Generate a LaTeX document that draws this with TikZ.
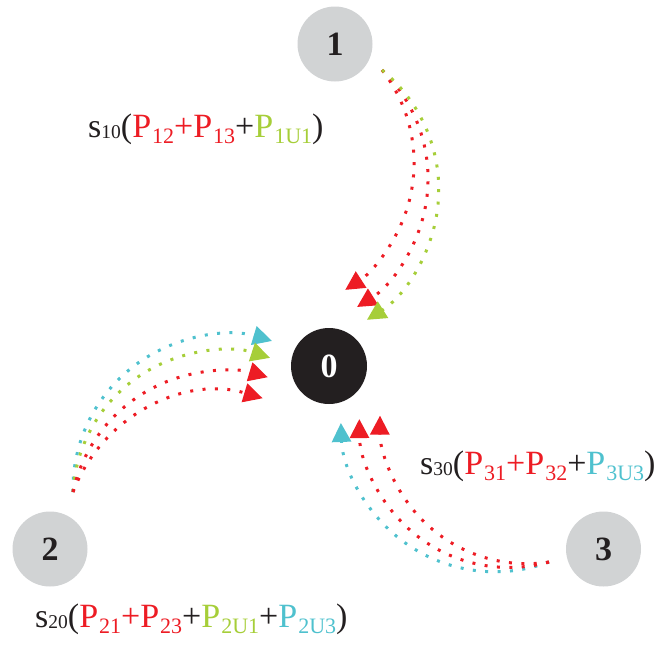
\documentclass[tikz,border=0pt]{standalone}
\usepackage{fontspec}
\setmainfont{Liberation Serif}
\usetikzlibrary{arrows.meta}
\definecolor{pred}{HTML}{ED1C24}
\definecolor{pgreen}{HTML}{A6CE39}
\definecolor{pcyan}{HTML}{4FC1CE}
\definecolor{pgray}{HTML}{D1D3D4}
\definecolor{pblack}{HTML}{231F20}
\newcommand\subS[1]{\raisebox{-1pt}{\fontsize{19.5}{19.5}\selectfont #1}}
\newcommand\subP[1]{\raisebox{-6pt}{\fontsize{22}{22}\selectfont\kern1pt #1}}
\tikzset{
  station/.style={circle,fill=pgray,minimum size=75pt,inner sep=0pt,
    font=\fontsize{34}{34}\selectfont\bfseries,text=pblack},
  hub/.style={circle,fill=pblack,minimum size=76pt,inner sep=0pt,
    font=\fontsize{34}{34}\selectfont\bfseries,text=white},
  flow/.style={line width=3pt,dash pattern=on 3pt off 9.4pt,
    -{Triangle[length=19pt,width=19pt]}},
  lbl/.style={anchor=base west,inner sep=0pt,font=\fontsize{34}{34}\selectfont,text=pblack}
}
\begin{document}
\begin{tikzpicture}[x=1pt,y=-1pt]
\useasboundingbox (0,0) rectangle (658,645);
\node[station] (n1) at (335,44) {1};
\node[hub] (n0) at (329,366) {0};
\node[station] (n2) at (50,549) {2};
\node[station] (n3) at (603.5,549) {3};
% start points of the flows
\coordinate (a1) at (382,70);
\coordinate (a2) at (73,492);
\coordinate (a3) at (549,562);
% flows from 1
\draw[flow,pred] (a1) arc[start angle=38,end angle=-57,radius=151.2pt];
\draw[flow,pred] (a1) arc[start angle=45.9,end angle=-57.9,radius=151.4pt];
\draw[flow,pgreen] (a1) arc[start angle=50.8,end angle=-57.7,radius=154.2pt];
% flows from 2
\draw[flow,pcyan] (a2) arc[start angle=181.1,end angle=73.3,radius=154.6pt];
\draw[flow,pgreen] (a2) arc[start angle=176.6,end angle=71.9,radius=150.5pt];
\draw[flow,pred] (a2) arc[start angle=167.7,end angle=73.3,radius=154.1pt];
\draw[flow,pred] (a2) arc[start angle=159.3,end angle=73.3,radius=155.1pt];
% flows from 3
\draw[flow,pcyan] (a3) arc[start angle=-69.5,end angle=-178,radius=154.2pt];
\draw[flow,pred] (a3) arc[start angle=-74.5,end angle=-179.5,radius=149.7pt];
\draw[flow,pred] (a3) arc[start angle=-81.3,end angle=-180.5,radius=146.8pt];
% labels
\node[lbl] (l1) at (88,137) {s\subS{10}(\textcolor{pred}{P\subP{12}+P\subP{13}}+\textcolor{pgreen}{P\subP{1U1}})};
\node[lbl] (l2) at (35,627) {s\subS{20}(\textcolor{pred}{P\subP{21}+P\subP{23}}+\textcolor{pgreen}{P\subP{2U1}}+\textcolor{pcyan}{P\subP{2U3}})};
\node[lbl] (l3) at (420,474) {s\subS{30}(\textcolor{pred}{P\subP{31}+P\subP{32}}+\textcolor{pcyan}{P\subP{3U3}})};
\end{tikzpicture}
\end{document}
